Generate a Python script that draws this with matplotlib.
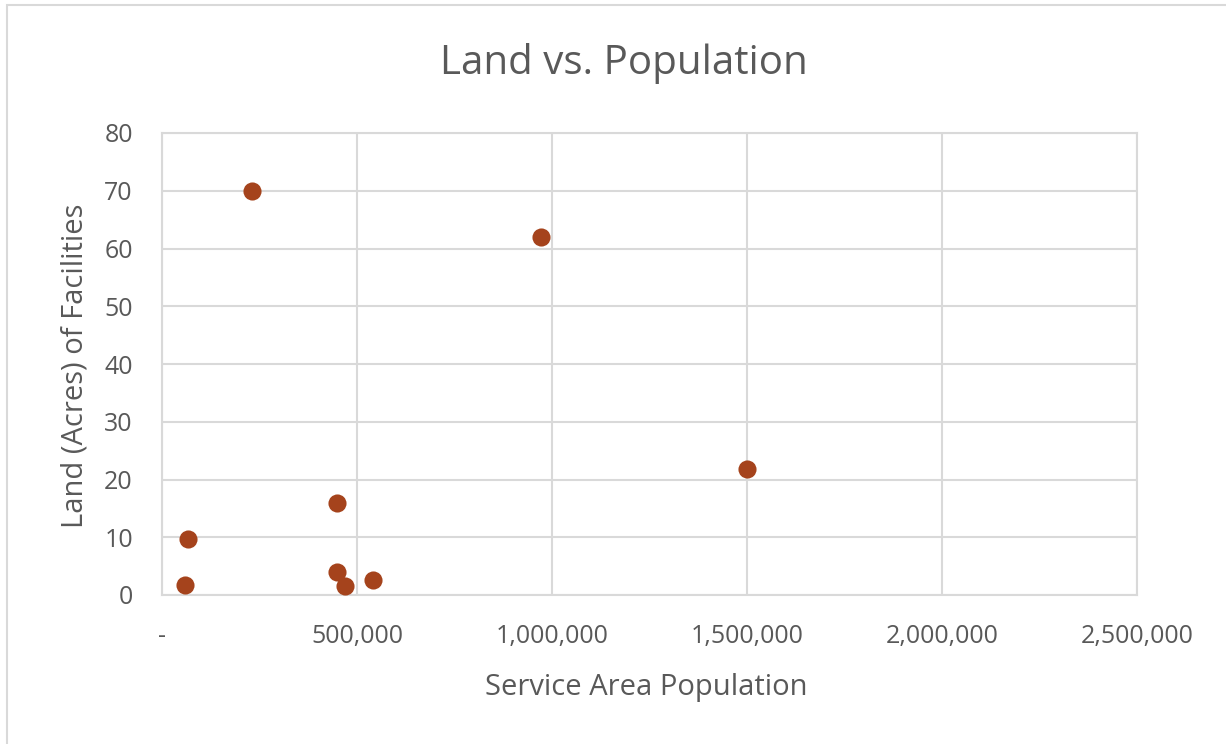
import numpy as np
from matplotlib import pyplot as plt
from matplotlib.ticker import FuncFormatter
from matplotlib.patches import Rectangle

# data
population = [231500, 449500, 65900, 59000, 449500, 469000, 541800, 971800, 1500000]
land_acres = [70.0, 16.0, 9.7, 1.7, 3.9, 1.6, 2.6, 62.0, 21.8]

x_ticks = [0, 500000, 1000000, 1500000, 2000000, 2500000]
y_ticks = [0, 10, 20, 30, 40, 50, 60, 70, 80]

plt.rcParams['font.family'] = ['Open Sans', 'DejaVu Sans']
text_col = '#595959'
grid_col = '#D9D9D9'

W, H = 1226, 744
fig = plt.figure(figsize=(W/100, H/100), dpi=100)
ax = fig.add_axes([162/W, 1 - 595/H, (1137-162)/W, (595-133)/H])

# chart border like the excel chart area
fig.patches.append(Rectangle((7/W, -0.01), 1.0, 1 - 5/H + 0.01,
                             transform=fig.transFigure, fill=False,
                             edgecolor=grid_col, linewidth=1.5))

ax.scatter(population, land_acres, s=170, color='#A5431C', zorder=3, linewidths=0)

ax.set_xlim(0, 2500000)
ax.set_ylim(0, 80)
ax.set_xticks(x_ticks)
ax.set_yticks(y_ticks)

def fmt(v, pos):
    if v == 0:
        return '-'
    return '{:,.0f}'.format(v)

ax.xaxis.set_major_formatter(FuncFormatter(fmt))
ax.grid(True, color=grid_col, linewidth=1.5)
ax.set_axisbelow(True)
for s in ax.spines.values():
    s.set_color(grid_col)
    s.set_linewidth(1.5)
ax.tick_params(length=0, labelsize=18, labelcolor=text_col)
ax.tick_params(axis='x', pad=21)
ax.tick_params(axis='y', pad=21)

fig.text(624/W, 1 - 63/H, 'Land vs. Population', fontsize=29, color=text_col,
         ha='center', va='center')
ax.set_xlabel('Service Area Population', fontsize=21, color=text_col, va='center')
ax.xaxis.set_label_coords((646-162)/975, (595-688)/462)
ax.set_ylabel('Land (Acres) of Facilities', fontsize=21, color=text_col, va='center')
ax.yaxis.set_label_coords((75-162)/975, (595-366)/462)

plt.savefig('out.png', dpi=100)
